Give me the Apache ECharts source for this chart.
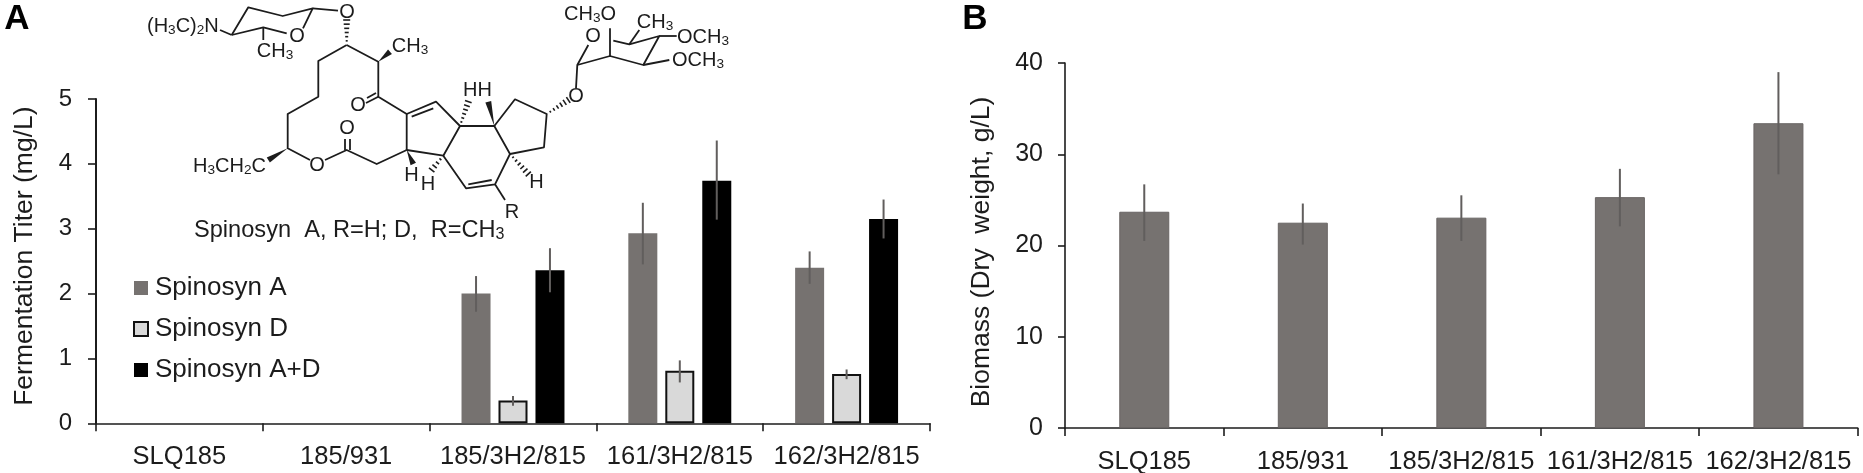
<!DOCTYPE html>
<html>
<head>
<meta charset="utf-8">
<style>html,body{margin:0;padding:0;background:#fff}#main{width:1863px;height:473px}</style>
<script src="https://cdn.jsdelivr.net/npm/echarts@6/dist/echarts.min.js"></script>
</head>
<body>
<div id="main"></div>
<script>
var strains = ['SLQ185', '185/931', '185/3H2/815', '161/3H2/815', '162/3H2/815'];

// panel A, mg/L
var spinA = [null, null, 2.0, 2.93, 2.4];
var spinAHigh = [null, null, 2.27, 3.4, 2.65];
var spinALow = [null, null, 1.72, 2.45, 2.15];
var spinD = [null, null, 0.35, 0.81, 0.76];
var spinDHigh = [null, null, 0.42, 0.97, 0.83];
var spinDLow = [null, null, 0.27, 0.63, 0.68];
var spinAD = [null, null, 2.36, 3.74, 3.15];
var spinADHigh = [null, null, 2.7, 4.36, 3.45];
var spinADLow = [null, null, 2.02, 3.14, 2.85];

// panel B, g/L
var biomass = [23.7, 22.5, 23.05, 25.3, 33.4];
var biomassHigh = [26.7, 24.6, 25.5, 28.4, 39.0];
var biomassLow = [20.5, 20.1, 20.5, 22.1, 27.8];

var FONT = '"Liberation Sans", Arial, sans-serif';
var INK = '#1c1c1c';
var GREY = '#767270';

function errorSeries(xi, yi, high, low, shift) {
    return {
        type: 'custom',
        xAxisIndex: xi,
        yAxisIndex: yi,
        silent: true,
        z: 5,
        data: strains.map(function (s, i) { return high[i] == null ? [i, null, null] : [i, low[i], high[i]]; }),
        encode: { x: 0, y: [1, 2] },
        renderItem: function (params, api) {
            if (api.value(1) == null || isNaN(api.value(1))) return null;
            var lo = api.coord([api.value(0), api.value(1)]);
            var hi = api.coord([api.value(0), api.value(2)]);
            var dx = api.size([1, 0])[0] * shift;
            return {
                type: 'line',
                shape: { x1: lo[0] + dx, y1: lo[1], x2: hi[0] + dx, y2: hi[1] },
                style: { stroke: '#615e5d', lineWidth: 2 }
            };
        }
    };
}

// structure drawing: plain bonds
var bonds = [
    [[220, 30], [231.7, 35]],
    [[231.7, 35], [248.3, 7.3], [282.7, 16], [312.7, 8.3], [303, 28.3]],
    [[231.7, 35], [263.3, 27.3], [286.7, 33.3]],
    [[263.3, 27.3], [263.3, 40]],
    [[312.7, 8.3], [338, 10.7]],
    [[346.7, 45], [318.3, 61], [318.3, 96.7], [287.7, 114], [287.7, 148.3], [310, 160]],
    [[325, 160], [346.7, 150], [376.7, 164], [406.7, 150]],
    [[345, 150], [345, 139]],
    [[350, 150], [350, 139]],
    [[346.7, 45], [378.3, 61.7], [378.3, 96.7], [406.7, 114], [406.7, 150]],
    [[378.3, 96.7], [366, 103]],
    [[376, 93], [367, 98]],
    [[406.7, 114], [436, 101.7], [460, 126], [443.3, 155.7], [406.7, 150]],
    [[411.7, 116.7], [433.3, 108.3]],
    [[460, 126], [494.3, 126], [510, 154], [495, 184.3], [466, 188.3], [443.3, 155.7]],
    [[468.3, 184.3], [491.7, 180]],
    [[494.3, 126], [515, 99.3], [546.7, 114], [544, 147.3], [510, 154]],
    [[495, 184.3], [505, 200]],
    [[576, 88.3], [577.3, 65], [588.3, 45]],
    [[577.3, 65], [610, 56], [643.3, 65], [659.3, 36], [629.3, 44.3], [613.3, 40.7]],
    [[610, 56], [610, 28.3]],
    [[659.3, 36], [676.7, 36]],
    [[643.3, 65], [669.3, 60]],
    [[629.3, 44.3], [639.3, 30]]
];
var wedges = [
    [[378.3, 61.7], [390, 51.7]],
    [[287.7, 148.3], [268.3, 160]],
    [[406.7, 150], [413.3, 164]],
    [[494.3, 126], [488.3, 101.7]]
];
var hashes = [
    [[346.7, 45], [346.7, 20]],
    [[460, 126], [468.3, 101.7]],
    [[443.3, 155.7], [431.7, 170]],
    [[510, 154], [528.3, 174]],
    [[546.7, 114], [568.3, 100]]
];
var atoms = [
    ['(H_3C)_2N', 147, 26, 'left'],
    ['O', 297, 36, 'center'],
    ['CH_3', 275, 51, 'center'],
    ['O', 347, 12, 'center'],
    ['CH_3', 410, 46, 'center'],
    ['O', 358, 105, 'center'],
    ['O', 347, 128, 'center'],
    ['O', 317, 165, 'center'],
    ['H_3CH_2C', 193, 166, 'left'],
    ['H', 411.5, 175, 'center'],
    ['H', 428, 184, 'center'],
    ['HH', 477.5, 90, 'center'],
    ['H', 536.5, 182, 'center'],
    ['R', 512, 212, 'center'],
    ['O', 576, 96, 'center'],
    ['O', 593, 36, 'center'],
    ['CH_3O', 590, 14, 'center'],
    ['CH_3', 655, 22, 'center'],
    ['OCH_3', 703, 37, 'center'],
    ['OCH_3', 698, 60, 'center']
];

function chem(str) {
    return str.split(/_(\d)/).map(function (part, i) {
        return i % 2 ? '{s|' + part + '}' : (part ? '{n|' + part + '}' : '');
    }).join('');
}

function chemText(str, x, y, align, size) {
    return {
        type: 'text',
        silent: true,
        z: 20,
        style: {
            text: chem(str), x: x, y: y, align: align, verticalAlign: 'middle',
            fill: INK, font: size + 'px ' + FONT,
            rich: {
                n: { fontSize: size, fontFamily: FONT, lineHeight: size + 2, fill: INK },
                s: { fontSize: size * 0.68, fontFamily: FONT, lineHeight: size + 2, padding: [size * 0.42, 0, 0, 0], fill: INK }
            }
        }
    };
}

var drawing = [];
bonds.forEach(function (b) {
    drawing.push({
        type: 'polyline', silent: true, z: 20,
        shape: { points: b },
        style: { stroke: INK, lineWidth: 1.8, fill: null, lineJoin: 'round' }
    });
});
wedges.forEach(function (w) {
    var dx = w[1][0] - w[0][0], dy = w[1][1] - w[0][1], len = Math.sqrt(dx * dx + dy * dy);
    var nx = -dy / len * 3, ny = dx / len * 3;
    drawing.push({
        type: 'polygon', silent: true, z: 20,
        shape: { points: [w[0], [w[1][0] + nx, w[1][1] + ny], [w[1][0] - nx, w[1][1] - ny]] },
        style: { fill: INK }
    });
});
hashes.forEach(function (h) {
    var dx = h[1][0] - h[0][0], dy = h[1][1] - h[0][1], len = Math.sqrt(dx * dx + dy * dy);
    var n = Math.round(len / 4.5);
    for (var i = 1; i <= n; i++) {
        var t = i / n, half = 0.5 + 3 * t;
        var cx = h[0][0] + dx * t, cy = h[0][1] + dy * t;
        drawing.push({
            type: 'line', silent: true, z: 20,
            shape: { x1: cx - dy / len * half, y1: cy + dx / len * half, x2: cx + dy / len * half, y2: cy - dx / len * half },
            style: { stroke: INK, lineWidth: 1.6 }
        });
    }
});
atoms.forEach(function (a) {
    drawing.push(chemText(a[0], a[1], a[2], a[3], 20));
});
drawing.push(chemText('Spinosyn  A, R=H; D,  R=CH_3', 194, 230, 'left', 23.6));

['A', 'B'].forEach(function (letter, i) {
    drawing.push({
        type: 'text', silent: true,
        style: { text: letter, x: [17, 975][i], y: 19, align: 'center', verticalAlign: 'middle', fill: '#000', font: 'bold 35px ' + FONT }
    });
});

var axisLine = { show: true, lineStyle: { color: INK, width: 1.6 } };
var labelStyle = { color: INK, fontFamily: FONT, interval: 0, hideOverlap: false };

var option = {
    backgroundColor: '#fff',
    animation: false,
    textStyle: { fontFamily: FONT },
    grid: [
        { left: 96, top: 99, width: 834, height: 324.3, outerBoundsMode: 'none' },
        { left: 1065, top: 63, width: 792.7, height: 365, outerBoundsMode: 'none' }
    ],
    legend: {
        data: ['Spinosyn A', 'Spinosyn D', 'Spinosyn A+D'],
        orient: 'vertical',
        left: 128,
        top: 268,
        itemWidth: 14,
        itemHeight: 14,
        itemGap: 11,
        selectedMode: false,
        icon: 'rect',
        textStyle: { fontFamily: FONT, fontSize: 26, color: INK, padding: [0, 0, 0, 2], lineHeight: 30 }
    },
    xAxis: [
        {
            type: 'category', gridIndex: 0, data: strains,
            axisLine: axisLine, axisTick: { show: true, length: 8, lineStyle: { color: INK, width: 1.6 } },
            axisLabel: Object.assign({ fontSize: 25.5, margin: 21 }, labelStyle)
        },
        {
            type: 'category', gridIndex: 1, data: strains,
            axisLine: axisLine, axisTick: { show: true, length: 8, lineStyle: { color: INK, width: 1.6 } },
            axisLabel: Object.assign({ fontSize: 25.5, margin: 21 }, labelStyle)
        }
    ],
    yAxis: [
        {
            type: 'value', gridIndex: 0, min: 0, max: 5, interval: 1,
            name: 'Fermentation Titer (mg/L)', nameLocation: 'middle', nameGap: 58,
            nameTextStyle: { fontSize: 26.5, color: INK, fontFamily: FONT, padding: [0, 0, 0, 10] },
            axisLine: { show: true, lineStyle: { color: INK, width: 2 } },
            axisTick: { show: true, length: 8, lineStyle: { color: INK, width: 1.6 } },
            axisLabel: { fontSize: 24, margin: 24, color: INK, fontFamily: FONT },
            splitLine: { show: false }
        },
        {
            type: 'value', gridIndex: 1, min: 0, max: 40, interval: 10,
            name: 'Biomass (Dry  weight, g/L)', nameLocation: 'middle', nameGap: 70,
            nameTextStyle: { fontSize: 26.5, color: INK, fontFamily: FONT, padding: [0, 13, 0, 0] },
            axisLine: { show: true, lineStyle: { color: INK, width: 1.6 } },
            axisTick: { show: true, length: 7, lineStyle: { color: INK, width: 1.6 } },
            axisLabel: { fontSize: 25, margin: 22, color: INK, fontFamily: FONT },
            splitLine: { show: false }
        }
    ],
    series: [
        { name: 'Spinosyn A', type: 'bar', data: spinA, barWidth: 29, barGap: '27.5%', itemStyle: { color: GREY } },
        { name: 'Spinosyn D', type: 'bar', data: spinD, barWidth: 29, barGap: '27.5%', itemStyle: { color: '#d9d9d9', borderColor: '#111', borderWidth: 2 } },
        { name: 'Spinosyn A+D', type: 'bar', data: spinAD, barWidth: 29, barGap: '27.5%', itemStyle: { color: '#000' } },
        { name: 'Biomass', type: 'bar', xAxisIndex: 1, yAxisIndex: 1, data: biomass, barWidth: 50, itemStyle: { color: GREY, borderColor: '#686463', borderWidth: 1 } },
        errorSeries(0, 0, spinAHigh, spinALow, -0.2216),
        errorSeries(0, 0, spinDHigh, spinDLow, 0),
        errorSeries(0, 0, spinADHigh, spinADLow, 0.2216),
        errorSeries(1, 1, biomassHigh, biomassLow, 0)
    ],
    graphic: drawing
};

var myChart = echarts.init(document.getElementById('main'), null, { renderer: 'canvas' });
myChart.setOption(option);
</script>
</body>
</html>
